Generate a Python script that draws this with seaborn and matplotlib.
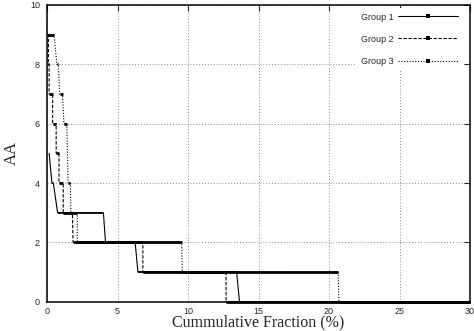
import numpy as np
import seaborn as sns
import matplotlib
matplotlib.use("Agg")
import matplotlib.pyplot as plt
from matplotlib.lines import Line2D

# step levels per group: value, x where the level starts, x where it ends (%)
g1_levels = [5, 4, 3, 2, 1, 0]
g1_start = [0.15, 0.35, 0.75, 4.15, 6.45, 13.65]
g1_end = [0.15, 0.45, 4.0, 6.25, 13.45, 30.0]

g2_levels = [9, 8, 7, 6, 5, 4, 3, 2, 1, 0]
g2_start = [0.05, 0.1, 0.15, 0.4, 0.65, 0.85, 1.15, 1.85, 6.8, 12.7]
g2_end = [0.1, 0.15, 0.4, 0.65, 0.85, 1.15, 1.8, 6.8, 12.7, 30.0]

g3_levels = [9, 8, 7, 6, 4, 3, 2, 1, 0]
g3_start = [0.05, 0.7, 0.9, 1.2, 1.5, 1.7, 2.15, 9.6, 20.7]
g3_end = [0.5, 0.8, 1.1, 1.4, 1.65, 2.15, 9.55, 20.65, 30.0]

group_names = ["Group 1", "Group 2", "Group 3"]
group_styles = ["-", (0, (3, 1.5)), (0, (1, 1.5))]

groups = [(g1_levels, g1_start, g1_end),
          (g2_levels, g2_start, g2_end),
          (g3_levels, g3_start, g3_end)]

sns.set_style("white")
plt.rcParams["font.family"] = ["Liberation Sans", "DejaVu Sans"]

fig = plt.figure(figsize=(4.74, 3.31), dpi=100)
ax = fig.add_axes([47 / 474, 1 - 301.7 / 331, 423 / 474, 296.7 / 331])

handles = []
for (lev, xs, xe), name, ls in zip(groups, group_names, group_styles):
    x = np.ravel(np.column_stack([xs, xe]))
    y = np.repeat(lev, 2)
    sns.lineplot(x=x, y=y, sort=False, estimator=None, ax=ax, color="black",
                 linestyle=ls, linewidth=0.8)
    # dense points make the flat parts look heavy
    ax.hlines(lev, xs, xe, color="black", clip_on=False,
              linewidth=2.0 if name != "Group 1" else 1.2)
    handles.append(Line2D([], [], color="black", linestyle=ls, linewidth=0.8,
                          marker="s", markersize=2.2, markeredgewidth=0))

ax.set_xlim(0, 30)
ax.set_ylim(0, 10)
ax.set_xticks(range(0, 31, 5))
ax.set_yticks(range(0, 11, 2))
ax.grid(True, color="#888888", linestyle=(0, (1, 2)), linewidth=0.7)
ax.tick_params(direction="in", length=4, width=0.8, top=True, right=True,
               labelsize=6.5, pad=3.5)
ax.tick_params(axis="y", pad=5)
for sp in ax.spines.values():
    sp.set_visible(True)
    sp.set_color("black")
    sp.set_linewidth(1.1)

ax.set_xlabel("Cummulative Fraction (%)", family="Liberation Serif", fontsize=11.5, labelpad=-1)
ax.set_ylabel("AA", family="Liberation Serif", fontsize=12, labelpad=7)

leg = ax.legend(handles, group_names, loc="upper right",
                bbox_to_anchor=(463 / 474, 1 - 8 / 331), bbox_transform=fig.transFigure,
                markerfirst=False, numpoints=1, fontsize=6.5, handlelength=6.7,
                handletextpad=0.5, labelspacing=1.45, borderpad=0.5,
                borderaxespad=0, frameon=True, fancybox=False)
leg.get_frame().set_facecolor("white")
leg.get_frame().set_edgecolor("none")
leg.get_frame().set_alpha(1)

fig.savefig("out.png", dpi=100)
